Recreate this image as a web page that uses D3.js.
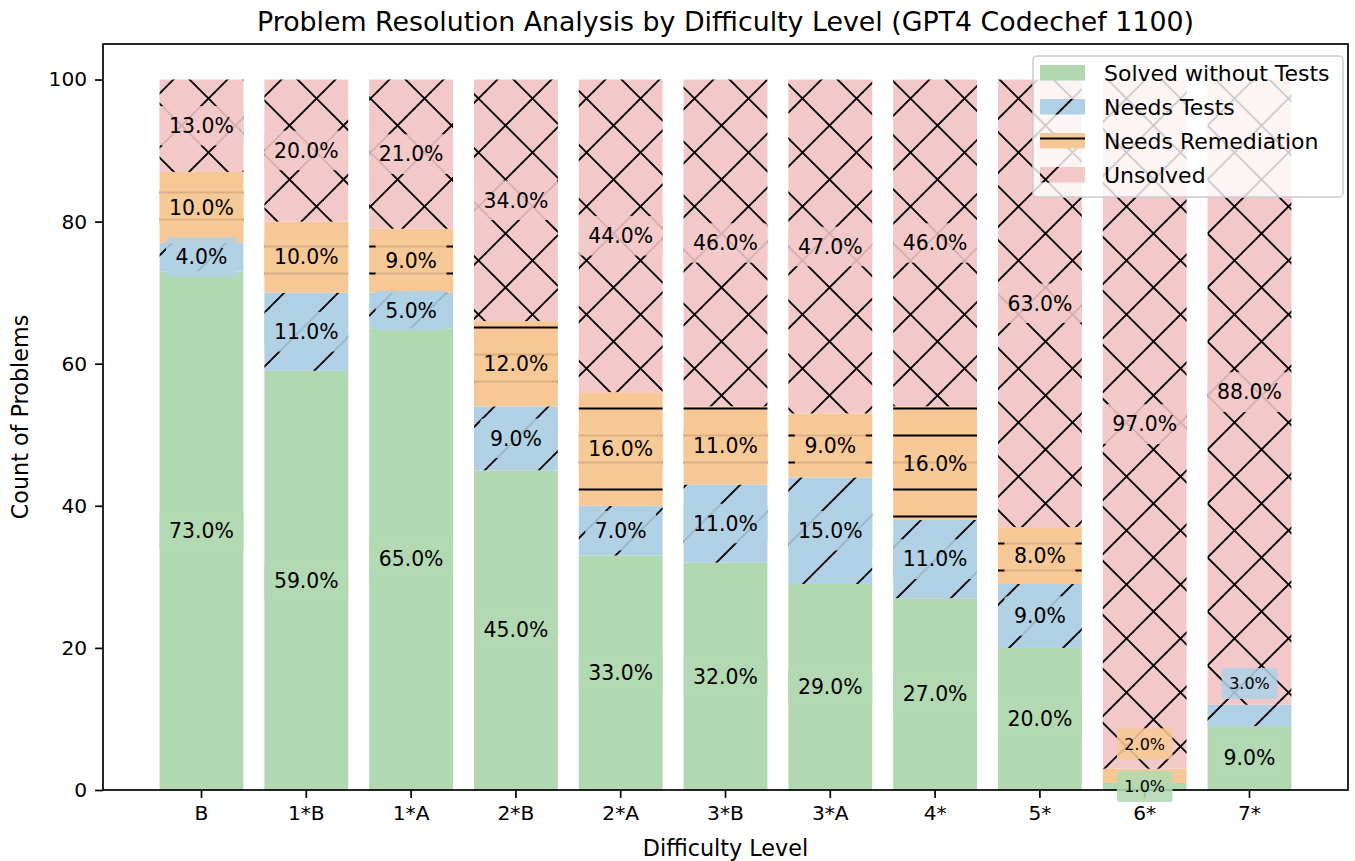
<!DOCTYPE html>
<html>
<head>
<meta charset="utf-8">
<script src="https://cdn.jsdelivr.net/npm/d3@7"></script>
<style>
  body { margin: 0; background: #fff; }
  svg text { font-family: "DejaVu Sans", sans-serif; fill: #000; }
</style>
</head>
<body>
<svg id="chart" width="1355" height="861"></svg>
<script>
(function(){
    // data (counts, 100 problems per level)
    var categories = ['B','1*B','1*A','2*B','2*A','3*B','3*A','4*','5*','6*','7*'];
    var solved      = [73, 59, 65, 45, 33, 32, 29, 27, 20,  1,  9];
    var needsTests  = [ 4, 11,  5,  9,  7, 11, 15, 11,  9,  0,  3];
    var needsRemed  = [10, 10,  9, 12, 16, 11,  9, 16,  8,  2,  0];
    var unsolved    = [13, 20, 21, 34, 44, 46, 47, 46, 63, 97, 88];
    var seriesNames = ['Solved without Tests','Needs Tests','Needs Remediation','Unsolved'];
    var yTicks = [0, 20, 40, 60, 80, 100];

    var cols = ['#b2d8b2', '#b0d0e5', '#f7c896', '#f3c8c9'];
    var fills = [cols[0], 'url(#h-slash)', 'url(#h-dash)', 'url(#h-cross)'];

    var W = 1355, H = 861;
    var left = 103, right = 1348, top = 44, bottom = 790;

    var svg = d3.select('#chart');
    svg.append('rect').attr('width', W).attr('height', H).attr('fill', '#fff');

    var x = d3.scaleBand().domain(categories).range([left, right])
        .paddingInner(0.2).paddingOuter(0.54);
    var y = d3.scaleLinear().domain([0, 105]).range([bottom, top]);

    // hatch patterns (userSpaceOnUse so the phase is global, like matplotlib)
    var defs = svg.append('defs');
    var S = 54, hw = 1.9;
    function pattern(id, col, h, lines){
        var p = defs.append('pattern').attr('id', id)
            .attr('patternUnits', 'userSpaceOnUse')
            .attr('x', 0).attr('y', 0).attr('width', S).attr('height', h);
        p.append('rect').attr('width', S).attr('height', h).attr('fill', col);
        lines.forEach(function(l){
            p.append('line')
                .attr('x1', l[0]).attr('y1', l[1]).attr('x2', l[2]).attr('y2', l[3])
                .attr('stroke', '#000').attr('stroke-width', hw);
        });
    }
    var slash = [[-10, 47, 47, -10], [27, 64, 64, 27]];
    var back = [[-10, -12, 64, 62], [-10, 42, 12, 64]];
    pattern('h-slash', cols[1], S, slash);
    pattern('h-dash', cols[2], 27, [[-1, 3.5, S + 1, 3.5]]);
    pattern('h-cross', cols[3], S, slash.concat(back));

    // stack
    var series = [solved, needsTests, needsRemed, unsolved];
    var rows = categories.map(function(c, i){
        var o = {cat: c};
        seriesNames.forEach(function(s, k){ o[s] = series[k][i]; });
        return o;
    });
    var stacked = d3.stack().keys(seriesNames)(rows);

    var gBars = svg.append('g');
    stacked.forEach(function(layer, k){
        gBars.selectAll(null).data(layer).enter().append('rect')
            .attr('x', function(d){ return x(d.data.cat); })
            .attr('width', x.bandwidth())
            .attr('y', function(d){ return y(d[1]); })
            .attr('height', function(d){ return y(d[0]) - y(d[1]); })
            .attr('fill', fills[k]);
    });

    // axes
    var gx = svg.append('g').attr('transform', 'translate(0,' + bottom + ')')
        .call(d3.axisBottom(x).tickSize(7.9).tickPadding(7.5));
    var gy = svg.append('g').attr('transform', 'translate(' + left + ',0)')
        .call(d3.axisLeft(y).tickValues(yTicks).tickSize(7.9).tickPadding(8));
    [gx, gy].forEach(function(g){
        g.select('.domain').remove();
        g.selectAll('.tick line').attr('stroke', '#000').attr('stroke-width', 1.7);
        g.selectAll('.tick text').attr('font-size', 20.2).attr('font-family', 'DejaVu Sans').attr('fill', '#000');
    });
    svg.append('rect').attr('x', left).attr('y', top)
        .attr('width', right - left).attr('height', bottom - top)
        .attr('fill', 'none').attr('stroke', '#000').attr('stroke-width', 1.7);

    // labels with boxes, drawn over bars and spines
    var gLab = svg.append('g');
    stacked.forEach(function(layer, k){
        layer.forEach(function(d, i){
            var v = d[1] - d[0];
            if (v <= 0) return;
            var total = solved[i] + needsTests[i] + needsRemed[i] + unsolved[i];
            var small = v < 4;
            var fs = small ? 16 : 20.4;
            var mid = (d[0] + d[1]) / 2 + ((small && k > 0) ? 4.5 : 0);
            var cx = x(d.data.cat) + x.bandwidth() / 2, cy = y(mid);
            var g = gLab.append('g');
            var r = g.append('rect');
            var t = g.append('text')
                .attr('x', cx).attr('y', cy).attr('dy', '0.36em')
                .attr('text-anchor', 'middle').attr('font-size', fs)
                .text((v / total * 100).toFixed(1) + '%');
            var tw = t.node().getComputedTextLength();
            var pad = fs * 0.47, th = fs * 1.0;
            r.attr('x', cx - tw / 2 - pad).attr('y', cy - th / 2 - pad)
                .attr('width', tw + 2 * pad).attr('height', th + 2 * pad)
                .attr('rx', 3).attr('fill', cols[k]).attr('fill-opacity', 0.88);
        });
    });

    // titles
    svg.append('text').attr('x', (left + right) / 2).attr('y', 31)
        .attr('text-anchor', 'middle').attr('font-size', 26.8)
        .text('Problem Resolution Analysis by Difficulty Level (GPT4 Codechef 1100)');
    svg.append('text').attr('x', (left + right) / 2).attr('y', 856)
        .attr('text-anchor', 'middle').attr('font-size', 22.3)
        .text('Difficulty Level');
    svg.append('text').attr('transform', 'translate(28,' + ((top + bottom) / 2) + ') rotate(-90)')
        .attr('text-anchor', 'middle').attr('font-size', 22.3)
        .text('Count of Problems');

    // legend
    var lg = svg.append('g');
    lg.append('rect').attr('x', 1033).attr('y', 56).attr('width', 310).attr('height', 141)
        .attr('rx', 4).attr('fill', '#fff').attr('fill-opacity', 0.8)
        .attr('stroke', '#cccccc').attr('stroke-width', 1.5);
    seriesNames.forEach(function(s, k){
        var yy = 65 + 34 * k;
        lg.append('rect').attr('x', 1040).attr('y', yy).attr('width', 45).attr('height', 15.5)
            .attr('fill', fills[k]);
        lg.append('text').attr('x', 1104).attr('y', yy + 8).attr('dy', '0.36em')
            .attr('font-size', 22).text(s);
    });
})();
</script>
</body>
</html>
